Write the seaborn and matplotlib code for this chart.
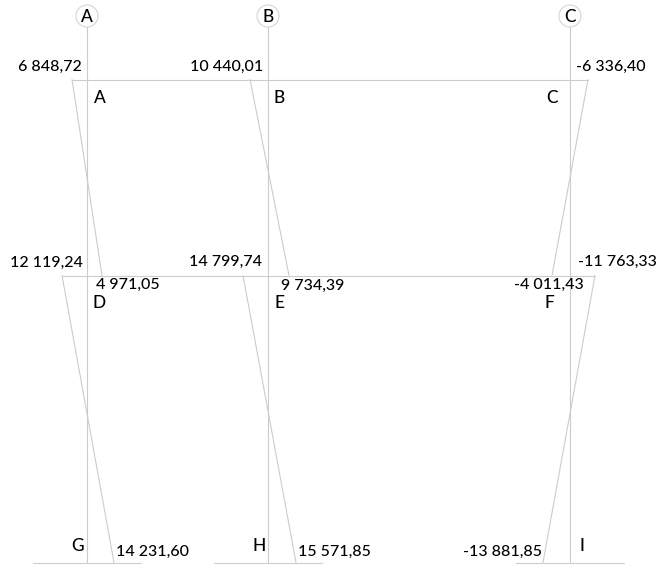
import matplotlib
matplotlib.use("Agg")
import matplotlib.pyplot as plt
from matplotlib.patches import Circle
import pandas as pd
import seaborn as sns

sns.set_theme(style="white")
plt.rcParams['font.family'] = ['Lato', 'DejaVu Sans']

# axes and levels
axis_names = ["A", "B", "C"]
axis_x = [87, 268, 570]
level_y = [79.5, 275.5, 562.5]

# diagram ends as drawn (left/right of each column)
top_x = [72, 250, 588]
top_bottom_x = [102, 289, 552]
low_x = [62, 243, 595]
low_bottom_x = [114, 296, 543]

# base lines under the columns
ground_start = [33, 214, 516]
ground_end = [141, 322, 624]

# moment labels
moment_labels = ["6 848,72", "10 440,01", "-6 336,40",
                 "12 119,24", "14 799,74", "-11 763,33",
                 "4 971,05", "9 734,39", "-4 011,43",
                 "14 231,60", "15 571,85", "-13 881,85"]
moment_x = [82, 263, 576, 83, 262, 578, 96, 281, 584, 116, 298, 542]
moment_y = [67, 67, 67, 263, 262, 262, 285, 286, 285, 552, 552, 552]
moment_ha = ["right", "right", "left", "right", "right", "left",
             "left", "left", "right", "left", "left", "right"]

# node labels
node_labels = ["A", "B", "C", "D", "E", "F", "G", "H", "I"]
node_x = [100, 279, 552, 99, 279, 549, 78, 259, 582]
node_y = [98, 98, 98, 303, 303, 303, 546, 546, 546]

rows = []
def seg(name, xs, ys):
    for x, y in zip(xs, ys):
        rows.append({"seg": name, "x": x, "y": y})

for i, x in enumerate(axis_x):
    seg(f"col{i}", [x, x], [27, level_y[2]])
    seg(f"d1{i}", [top_x[i], top_bottom_x[i]], [level_y[0], level_y[1]])
    seg(f"d2{i}", [low_x[i], low_bottom_x[i]], [level_y[1], level_y[2]])
    seg(f"g{i}", [ground_start[i], ground_end[i]], [level_y[2], level_y[2]])
seg("b1", [top_x[0], top_x[2]], [level_y[0], level_y[0]])
seg("b2", [low_x[0], low_x[2]], [level_y[1], level_y[1]])
df = pd.DataFrame(rows)

fig = plt.figure(figsize=(6.61, 5.65), dpi=100)
ax = fig.add_axes([0, 0, 1, 1])
sns.lineplot(data=df, x="x", y="y", units="seg", estimator=None, sort=False,
             color="#cccccc", linewidth=0.8, ax=ax, legend=False)
ax.set_xlim(0, 661)
ax.set_ylim(565, 0)
ax.axis("off")

for name, x in zip(axis_names, axis_x):
    ax.add_patch(Circle((x, 16), 11, fc="white", ec="#d5d5d5", lw=0.8, zorder=3))
    ax.text(x, 16.5, name, ha="center", va="center", fontsize=12.5,
            fontweight="medium", color="black", zorder=4)

for s, x, y, ha in zip(moment_labels, moment_x, moment_y, moment_ha):
    ax.text(x, y, s, ha=ha, va="center", fontsize=11.5, fontweight="medium", color="black")
for s, x, y in zip(node_labels, node_x, node_y):
    ax.text(x, y, s, ha="center", va="center", fontsize=12.5, fontweight="medium", color="black")

fig.savefig("out.png", dpi=100, facecolor="white")
